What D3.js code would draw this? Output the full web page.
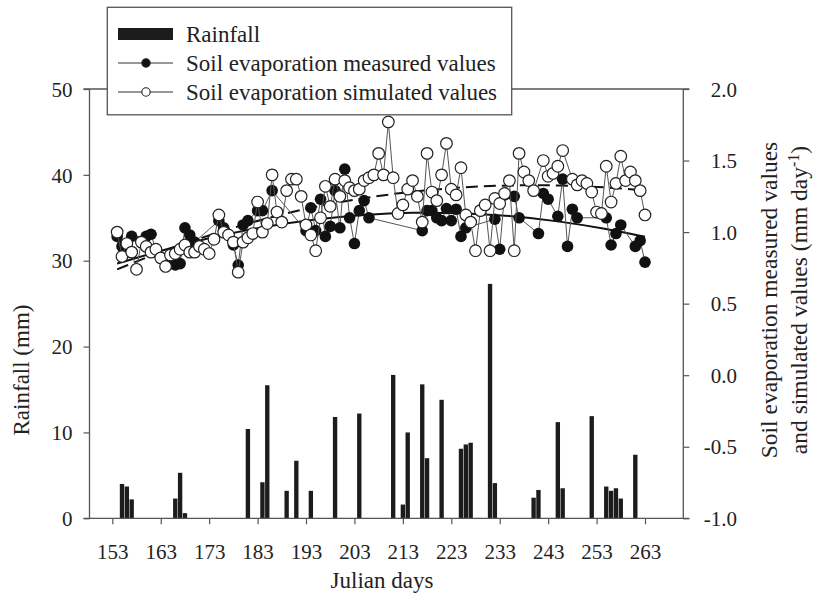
<!DOCTYPE html>
<html><head><meta charset="utf-8">
<script src="https://cdn.jsdelivr.net/npm/d3@7"></script>
<style>
html,body{margin:0;padding:0;background:#fff;}
svg text{font-family:"Liberation Serif","Times New Roman",serif;fill:#222;}
</style></head>
<body>
<svg id="chart" width="819" height="607"></svg>
<script>
// ---------- data ----------
const rainDays = [155,156,157,166,167,168,181,184,185,189,191,194,199,204,211,213,214,217,218,221,225,226,227,231,232,240,241,245,246,252,255,256,257,258,261];
const rainValues = [4.0,3.7,2.2,2.3,5.3,0.6,10.4,4.2,15.5,3.2,6.7,3.2,11.8,12.2,16.7,1.6,10.0,15.6,7.0,13.8,8.1,8.6,8.8,27.3,4.1,2.4,3.3,11.2,3.5,11.9,3.7,3.2,3.5,2.3,7.4];

const measuredDays = [154,155,156,157,160,161,162,164,165,166,167,168,169,170,175,176,178,179,180,181,183,184,186,
  193,194,195,196,197,198,199,200,201,202,203,204,205,206,
  217,218,219,220,221,222,223,224,225,226,232,233,234,236,237,241,242,243,245,246,247,248,249,255,256,257,258,261,262,263];
const measuredValues = [0.97,0.90,0.86,0.97,0.97,0.985,0.87,0.79,0.78,0.77,0.78,1.03,0.98,0.93,1.08,1.03,0.91,0.77,1.05,1.08,1.15,1.15,1.29,
  1.01,1.17,1.01,1.23,0.97,1.04,1.29,1.03,1.44,1.10,0.92,1.15,1.22,1.10,
  1.01,1.15,1.15,1.10,1.08,1.165,1.08,1.16,0.97,1.03,1.09,0.88,1.26,1.25,1.10,0.99,1.27,1.23,1.11,1.37,0.90,1.16,1.10,1.10,0.91,0.99,1.05,0.90,0.94,0.79];

const simulatedDays = [154,155,156,157,158,159,160,161,162,163,164,165,166,167,168,169,170,171,172,173,174,175,176,177,178,179,180,
  181,182,183,184,185,186,187,188,189,190,191,192,193,194,195,196,197,198,199,200,201,202,203,204,205,206,207,208,209,210,
  211,212,213,214,215,216,217,218,219,220,221,222,223,224,225,226,227,228,229,230,231,232,233,234,235,236,237,238,239,240,
  242,243,244,245,246,248,249,250,251,252,253,254,255,256,257,258,259,260,261,262,263];
const simulatedValues = [1.00,0.83,0.92,0.86,0.74,0.93,0.90,0.86,0.88,0.82,0.76,0.84,0.85,0.88,0.91,0.86,0.86,0.90,0.88,0.85,0.95,1.12,1.00,0.98,0.93,0.72,0.93,
  0.96,0.99,1.21,1.00,1.06,1.40,1.14,1.07,1.29,1.37,1.37,1.25,1.05,0.98,0.87,1.10,1.32,1.18,1.37,1.25,1.36,1.31,1.29,1.30,1.36,1.38,1.40,1.55,1.40,1.77,
  1.38,1.13,1.19,1.30,1.36,1.25,1.07,1.55,1.28,1.22,1.40,1.62,1.30,1.26,1.45,1.12,1.07,0.87,1.15,1.19,0.87,1.235,1.20,1.27,1.36,0.87,1.55,1.42,1.36,1.29,
  1.50,1.39,1.41,1.46,1.57,1.37,1.33,1.36,1.34,1.28,1.14,1.13,1.46,1.21,1.34,1.53,1.36,1.42,1.36,1.29,1.12];

// fitted trend curves
const trendDays = [154,165,175,185,195,205,215,225,235,245,255,263];
const trendMeasured = [0.78,0.89,0.976,1.042,1.091,1.123,1.138,1.135,1.115,1.078,1.023,0.967];
const trendSimulated = [0.74,0.89,1.00,1.10,1.18,1.24,1.285,1.314,1.328,1.328,1.314,1.29];

const xTicks = [153,163,173,183,193,203,213,223,233,243,253,263];
const leftTicks = [0,10,20,30,40,50];
const rightTicks = [-1.0,-0.5,0.0,0.5,1.0,1.5,2.0];

// ---------- layout ----------
const L = 89.5, R = 683.3, T = 89, B = 518.3;
const svg = d3.select("#chart");
const x = d3.scaleLinear().domain([148.29, 270.91]).range([L, R]);
const yL = d3.scaleLinear().domain([0, 50]).range([B, T]);
const yR = d3.scaleLinear().domain([-1, 2]).range([B, T]);
const axisColor = "#555";

// bars
const bw = x(1) - x(0);
svg.append("g").selectAll("rect").data(rainDays).join("rect")
  .attr("x", (d) => x(d) - bw * 0.45)
  .attr("width", bw * 0.9)
  .attr("y", (d, i) => yL(rainValues[i]))
  .attr("height", (d, i) => B - yL(rainValues[i]))
  .attr("fill", "#1c1c1c");

// trend curves
const trendLine = d3.line().x((d) => x(d[0])).y((d) => yR(d[1])).curve(d3.curveBasis);
svg.append("path").datum(trendDays.map((d, i) => [d, trendMeasured[i]]))
  .attr("d", trendLine).attr("fill", "none").attr("stroke", "#111").attr("stroke-width", 2);
svg.append("path").datum(trendDays.map((d, i) => [d, trendSimulated[i]]))
  .attr("d", trendLine).attr("fill", "none").attr("stroke", "#111").attr("stroke-width", 2)
  .attr("stroke-dasharray", "12,6");

const ptLine = d3.line().x((d) => x(d[0])).y((d) => yR(d[1]));
const mPts = measuredDays.map((d, i) => [d, measuredValues[i]]);
const sPts = simulatedDays.map((d, i) => [d, simulatedValues[i]]);

svg.append("path").datum(mPts).attr("d", ptLine).attr("fill", "none").attr("stroke", "#555").attr("stroke-width", 1);
svg.append("g").selectAll("circle").data(mPts).join("circle")
  .attr("cx", (d) => x(d[0])).attr("cy", (d) => yR(d[1])).attr("r", 5.8).attr("fill", "#111");

svg.append("path").datum(sPts).attr("d", ptLine).attr("fill", "none").attr("stroke", "#555").attr("stroke-width", 1);
svg.append("g").selectAll("circle").data(sPts).join("circle")
  .attr("cx", (d) => x(d[0])).attr("cy", (d) => yR(d[1])).attr("r", 5.8)
  .attr("fill", "#fff").attr("stroke", "#222").attr("stroke-width", 1.2);

// axes
function styleAxis(g) {
  g.select(".domain").remove();
  g.selectAll(".tick line").attr("stroke", axisColor).attr("stroke-width", 1.2);
  g.selectAll(".tick text").attr("font-size", 21).attr("fill", "#222")
    .attr("font-family", '"Liberation Serif","Times New Roman",serif');
}
svg.append("g").attr("transform", `translate(0,${B})`)
  .call(d3.axisBottom(x).tickValues(xTicks).tickSize(6).tickPadding(20).tickFormat(d3.format("d")))
  .call(styleAxis);
svg.append("g").attr("transform", `translate(${L},0)`)
  .call(d3.axisLeft(yL).tickValues(leftTicks).tickSize(6).tickPadding(11))
  .call(styleAxis)
  .selectAll(".tick text").attr("dy", "0.34em");
const gR = svg.append("g").attr("transform", `translate(${R},0)`)
  .call(d3.axisRight(yR).tickValues(rightTicks).tickSize(6).tickFormat((d) => d.toFixed(1)))
  .call(styleAxis);
gR.selectAll(".tick text").attr("text-anchor", "end").attr("x", 53.7).attr("dy", "0.34em");

// frame
const frame = svg.append("g").attr("stroke", axisColor).attr("stroke-width", 1.3);
frame.append("line").attr("x1", L - 6).attr("x2", R + 6).attr("y1", B).attr("y2", B);
frame.append("line").attr("x1", L - 6).attr("x2", R + 6).attr("y1", T).attr("y2", T);
frame.append("line").attr("x1", L).attr("x2", L).attr("y1", T).attr("y2", B);
frame.append("line").attr("x1", R).attr("x2", R).attr("y1", T).attr("y2", B);

// titles
svg.append("text").attr("x", 382).attr("y", 588).attr("text-anchor", "middle").attr("font-size", 23).text("Julian days");
svg.append("text").attr("transform", "translate(29,370) rotate(-90)").attr("text-anchor", "middle").attr("font-size", 23).text("Rainfall (mm)");
const rt = svg.append("text").attr("transform", "translate(777,300) rotate(-90)").attr("text-anchor", "middle").attr("font-size", 23.5);
rt.append("tspan").attr("x", 0).attr("dy", 0).text("Soil evaporation measured values");
const l2 = rt.append("tspan").attr("x", 0).attr("dy", 30).text("and simulated values (mm day");
l2.append("tspan").attr("dy", -8).attr("font-size", 16).text("-1");
l2.append("tspan").attr("dy", 8).text(")");

// legend
const lg = svg.append("g");
lg.append("rect").attr("x", 107.3).attr("y", 7.3).attr("width", 404.4).attr("height", 107.5)
  .attr("fill", "#fff").attr("stroke", axisColor).attr("stroke-width", 1.3);
const rows = [34, 63, 92];
lg.append("rect").attr("x", 118).attr("y", rows[0] - 6).attr("width", 55).attr("height", 12).attr("fill", "#1c1c1c");
[1, 2].forEach((k) => {
  lg.append("line").attr("x1", 118).attr("x2", 173).attr("y1", rows[k]).attr("y2", rows[k]).attr("stroke", "#333").attr("stroke-width", 1.2);
  lg.append("circle").attr("cx", 146).attr("cy", rows[k]).attr("r", 4.2)
    .attr("fill", k === 1 ? "#111" : "#fff").attr("stroke", "#222").attr("stroke-width", 1.1);
});
const legendLabels = ["Rainfall", "Soil evaporation measured values", "Soil evaporation simulated values"];
legendLabels.forEach((t, k) => {
  lg.append("text").attr("x", 186).attr("y", rows[k]).attr("dy", "0.34em").attr("font-size", 23).text(t);
});
</script>
</body></html>
